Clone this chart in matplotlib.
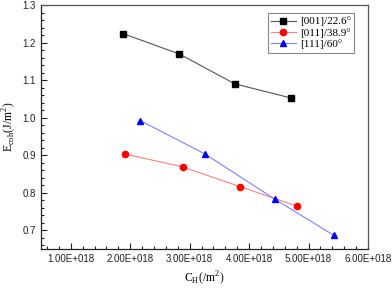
import matplotlib
matplotlib.use('Agg')
import matplotlib.pyplot as plt
from matplotlib.ticker import MultipleLocator, FuncFormatter

plt.rcParams['mathtext.fontset'] = 'custom'
plt.rcParams['mathtext.rm'] = 'Liberation Serif'

# hydrogen concentration (/m^2) and cohesive energy (J/m^2)
c_001 = [1.875e18, 2.82e18, 3.76e18, 4.71e18]
e_001 = [1.224, 1.170, 1.090, 1.052]
c_011 = [1.91e18, 2.88e18, 3.85e18, 4.81e18]
e_011 = [0.903, 0.869, 0.816, 0.764]
c_111 = [2.17e18, 3.26e18, 4.44e18, 5.43e18]
e_111 = [0.992, 0.903, 0.782, 0.686]
labels = ['[001]/22.6°', '[011]/38.9°', '[111]/60°']

fig = plt.figure(figsize=(3.92, 2.88), dpi=100)
ax = fig.add_axes([0.1046, 0.1354, 0.8342, 0.8472])

ax.plot(c_001, e_001, color='#555555', lw=0.8, marker='s', ms=4,
        mfc='black', mec='black', label=labels[0])
ax.plot(c_011, e_011, color='#ff8080', lw=0.8, marker='o', ms=4.5,
        mfc='#ff0000', mec='#ff0000', label=labels[1])
ax.plot(c_111, e_111, color='#8080ff', lw=0.8, marker='^', ms=5,
        mfc='#0000ff', mec='#0000ff', label=labels[2])

ax.set_xlim(0.5e18, 6.0e18)
ax.set_ylim(0.65, 1.3)
ax.xaxis.set_major_locator(MultipleLocator(1e18))
ax.xaxis.set_minor_locator(MultipleLocator(0.2e18))
ax.yaxis.set_major_locator(MultipleLocator(0.1))
ax.yaxis.set_minor_locator(MultipleLocator(0.02))
ax.xaxis.set_major_formatter(FuncFormatter(lambda v, p: f'{v/1e18:.2f}E+018'))
ax.yaxis.set_major_formatter(FuncFormatter(lambda v, p: f'{v:.1f}'))

ax.tick_params(which='both', direction='in', top=False, right=False,
               labelsize=7, colors='#222222', width=0.8)
ax.tick_params(which='major', length=4)
ax.tick_params(which='minor', length=2)
for lab in ax.get_xticklabels() + ax.get_yticklabels():
    lab.set_fontfamily('Liberation Sans')
for s in ax.spines.values():
    s.set_color('#555555')
    s.set_linewidth(0.9)
ax.spines['left'].set_color('#222222')
ax.spines['bottom'].set_color('#222222')

ax.set_xlabel(r'C$_\mathrm{H}$(/m$^2$)', family='Liberation Serif', fontsize=8.5,
              labelpad=4)
ax.set_ylabel(r'E$_\mathrm{coh}$(J/m$^2$)', family='Liberation Serif', fontsize=8.5,
              labelpad=3)

leg = ax.legend(loc='upper right', bbox_to_anchor=(0.965, 0.975),
                prop={'family': 'Liberation Serif', 'size': 8},
                fancybox=False, framealpha=1, edgecolor='#888888',
                handlelength=2.2, borderpad=0.3, labelspacing=0.15,
                handletextpad=0.4, borderaxespad=0.2)
leg.get_frame().set_linewidth(0.8)

fig.savefig('out.png', dpi=100)
